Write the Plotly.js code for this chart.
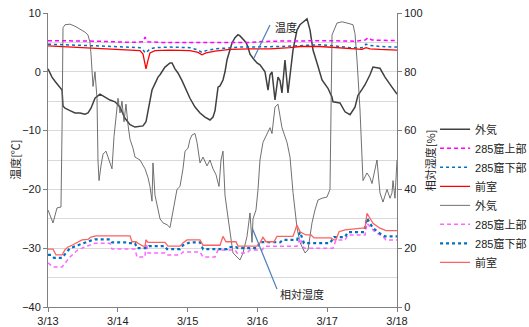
<!DOCTYPE html>
<html>
<head>
<meta charset="utf-8">
<script src="https://cdn.plot.ly/plotly-3.0.1.min.js"></script>
<style>html,body{margin:0;padding:0;background:#fff;}#chart{width:529px;height:327px;}</style>
</head>
<body>
<div id="chart"></div>
<script>
// x values: days since 3/13 00:00
const tickVals = [0, 1, 2, 3, 4, 5];
const tickLabels = ['3/13', '3/14', '3/15', '3/16', '3/17', '3/18'];
const seriesNames = ['外気', '285窟上部', '285窟下部', '前室'];

// Outside air temperature [°C]
const tOutTemp = [0,0.029,0.057,0.100,0.143,0.201,0.215,0.244,0.315,0.387,0.458,0.530,0.573,0.616,0.673,0.745,0.817,0.888,0.960,1.032,1.103,1.175,1.246,1.318,1.361,1.404,1.433,1.461,1.490,1.533,1.576,1.605,1.676,1.748,1.777,1.819,1.862,1.920,1.963,2.034,2.106,2.178,2.249,2.321,2.364,2.393,2.436,2.464,2.507,2.536,2.564,2.607,2.636,2.679,2.722,2.751,2.794,2.837,2.865,2.894,2.937,2.994,3.037,3.080,3.109,3.152,3.181,3.209,3.252,3.295,3.324,3.352,3.395,3.438,3.467,3.510,3.567,3.610,3.639,3.682,3.711,3.754,3.797,3.854,3.926,4.011,4.069,4.083,4.183,4.255,4.327,4.398,4.441,4.499,4.542,4.613,4.656,4.713,4.756,4.828,4.900,4.928,5.0];
const outTemp = [0.5,-0.2,-0.9,-1.6,-2.3,-3.1,-5.8,-6.2,-6.6,-7.0,-7.0,-7.2,-7.0,-6.2,-4.5,-3.8,-4.3,-4.8,-5.1,-6.0,-7.9,-9.0,-9.4,-9.3,-9.2,-8.5,-6.5,-4.5,-3.1,-2.0,-0.9,-0.5,0.8,1.5,1.5,0.5,-0.2,-1.5,-2.6,-4.5,-6.0,-7.0,-7.7,-8.2,-7.7,-6.6,-2.6,-2.4,-1.4,0.0,2.0,3.8,4.9,5.8,6.3,6.1,5.5,5.0,4.2,3.0,2.3,1.5,1.2,0.5,0.0,-3.1,-0.5,0.0,-4.8,-0.9,-1.5,-3.6,2.0,-3.6,-1.0,3.7,7.1,8.0,8.3,8.8,9.0,7.1,3.7,1.5,-1.4,-2.8,-4.3,-5.1,-5.3,-6.8,-7.3,-6.0,-4.0,-3.0,-2.2,-0.5,0.8,0.7,0.6,-0.9,-2.0,-2.6,-3.8];

// Upper 285 cave temperature
const tUpperTemp = [0,0.745,1.175,1.361,1.390,1.433,1.605,2.894,3.181,3.610,4.040,4.398,4.542,4.585,4.642,5.0];
const upperTemp = [5.3,5.2,5.0,5.1,5.9,5.1,5.0,5.0,5.2,5.3,5.3,5.2,5.4,5.8,5.4,5.3];

// Lower 285 cave temperature
const tLowerTemp = [0,0.172,0.458,0.745,1.175,1.318,1.361,1.390,1.418,1.461,1.533,1.748,2.034,2.149,2.206,2.264,2.393,2.751,3.324,3.610,3.897,4.112,4.327,4.499,4.556,4.613,4.756,5.0];
const lowerTemp = [4.7,4.6,4.5,4.4,4.2,4.1,3.8,3.2,3.4,3.9,4.1,4.2,4.1,3.7,3.3,3.6,3.9,4.2,4.3,4.5,4.6,4.4,4.1,4.1,4.7,4.5,4.3,4.2];

// Antechamber temperature
const tFrontTemp = [0,0.172,0.458,0.745,1.032,1.175,1.318,1.361,1.390,1.404,1.433,1.461,1.533,1.748,2.034,2.149,2.206,2.264,2.393,2.607,2.894,3.181,3.467,3.610,3.897,4.112,4.327,4.499,4.556,4.613,4.756,5.0];
const frontTemp = [4.4,4.3,4.1,4.0,3.8,3.7,3.6,3.0,1.5,0.5,2.0,3.2,3.6,3.7,3.6,3.3,2.9,3.2,3.5,3.8,3.9,3.9,4.1,4.3,4.3,4.1,3.9,3.8,4.1,3.9,3.8,3.7];

// Outside relative humidity [%]
const tOutRH = [0,0.029,0.072,0.129,0.186,0.201,0.215,0.244,0.315,0.387,0.458,0.530,0.573,0.602,0.616,0.630,0.645,0.673,0.702,0.716,0.731,0.759,0.788,0.831,0.860,0.888,0.917,0.946,0.974,1.003,1.032,1.060,1.089,1.117,1.146,1.175,1.218,1.246,1.318,1.390,1.433,1.461,1.490,1.504,1.533,1.562,1.605,1.648,1.705,1.748,1.791,1.848,1.891,1.934,1.963,2.006,2.034,2.063,2.106,2.135,2.178,2.221,2.278,2.321,2.364,2.407,2.450,2.479,2.507,2.536,2.564,2.607,2.650,2.708,2.751,2.794,2.851,2.894,2.923,2.937,2.980,3.009,3.037,3.080,3.138,3.181,3.209,3.252,3.295,3.352,3.424,3.467,3.510,3.567,3.610,3.682,3.725,3.782,3.825,3.868,3.926,3.997,4.040,4.054,4.069,4.140,4.212,4.298,4.370,4.398,4.427,4.470,4.499,4.513,4.570,4.613,4.642,4.685,4.713,4.756,4.799,4.857,4.900,4.928,4.943,4.971,5.0];
const outRH = [33,31,28.6,33.7,34,60,95,96,96.2,95.5,94.5,93.5,92.5,90,86,82,75,80,71,50,43,48,52,53,51,49,47,58,64,71,66,70,63,69,62,57,54,51,50,47,44,41,36,49,38,35,30,28.6,28,27,33,40,41,47,53,54,57,58.5,59,56,49,51,48,50,47,45,41,50,53,38,33,25,18.4,17,16,18.4,24,32,22,30,33,40,50,56,59,61,59,68,69,61,56,51,39,27,22,18.4,19.4,28.6,33,36.4,37,37.4,40,70,92.5,96.6,97,96.5,96,93,84,67,51,43,45.6,44,42,47,50,38.8,35.7,40,37,38.8,43,37,50];

// Upper 285 cave humidity
const tUpperRH = [0,0.029,0.072,0.201,0.244,0.315,0.430,0.530,0.602,0.673,0.888,0.917,1.246,1.275,1.390,1.404,1.433,1.676,1.705,1.891,1.934,2.178,2.221,2.393,2.436,2.679,2.708,2.851,2.894,3.066,3.109,3.567,3.610,3.668,4.083,4.126,4.255,4.298,4.542,4.570,4.685,4.799,4.842,5.0];
const upperRH = [15,14.3,13.6,13.6,15,17,19.5,20.5,21,21.7,21.7,19.7,19.7,17,17,22.8,18.4,18.4,17.7,17.7,18.7,18.7,17,17,19.4,19.4,18.4,18.4,19.4,19.4,20.7,20.7,23.5,20,20,22.8,22.8,24.5,24.5,28.5,25.5,24,22.8,22.8];

// Lower 285 cave humidity
const tLowerRH = [0,0.043,0.086,0.201,0.244,0.315,0.430,0.530,0.602,0.673,0.888,0.917,1.103,1.132,1.246,1.275,1.418,1.447,1.676,1.705,1.891,1.934,2.006,2.034,2.178,2.221,2.564,2.593,2.693,2.722,2.994,3.037,3.324,3.367,3.567,3.610,3.668,4.040,4.097,4.255,4.298,4.527,4.570,4.656,4.756,4.828,5.0];
const lowerRH = [17.7,17.7,16.7,16.7,18,20,21,22,22.5,23,23,22,22,21.7,21.7,20,20,20.7,20.7,19.7,19.7,21,21.7,22,22,19.7,19.7,20.4,20.4,20,20,22.1,22,22.8,22.8,25.5,21.7,21.7,23.8,23.8,25.5,25.5,30.2,26.8,25,24,24];

// Antechamber humidity
const tFrontRH = [0,0.072,0.115,0.201,0.244,0.287,0.344,0.401,0.487,0.573,0.616,0.688,1.175,1.203,1.261,1.289,1.361,1.390,1.404,1.433,1.676,1.719,1.891,1.934,1.991,2.178,2.221,2.464,2.507,2.550,2.693,2.722,2.994,3.037,3.080,3.123,3.238,3.281,3.510,3.567,3.610,3.696,3.768,3.811,4.054,4.097,4.126,4.169,4.255,4.499,4.542,4.570,4.656,4.756,4.842,5.0];
const frontRH = [19.7,19.7,17.7,17.7,19.5,20.4,21,21.8,22.8,23,23.8,24.2,24.2,22.2,22.2,21.7,20.7,20.7,22.8,22,22,20.7,20.7,21.8,22.8,22.8,21,21,24,22.2,22.2,20.7,20.7,21.8,23.7,22.2,22.2,24,24,27.9,25.6,24.5,24.5,23.5,23.5,22.8,22.8,25.6,26.2,26.8,26.8,31.9,28.5,26.8,26,26];

const FONT = 'Liberation Sans, Arial, Noto Sans CJK JP, sans-serif';
const JFONT = 'Noto Sans CJK JP, sans-serif';

const traces = [
  {x: tOutTemp, y: outTemp, name: seriesNames[0], yaxis: 'y', line: {color: '#404040', width: 1.5}},
  {x: tUpperTemp, y: upperTemp, name: seriesNames[1], yaxis: 'y', line: {color: '#ff00ff', width: 1.5, dash: '4px,3px'}},
  {x: tLowerTemp, y: lowerTemp, name: seriesNames[2], yaxis: 'y', line: {color: '#0070c0', width: 1.5, dash: 'dot'}},
  {x: tFrontTemp, y: frontTemp, name: seriesNames[3], yaxis: 'y', line: {color: '#ff0000', width: 1.3}},
  {x: tOutRH, y: outRH, name: seriesNames[0], yaxis: 'y2', line: {color: '#606060', width: 0.9}},
  {x: tUpperRH, y: upperRH, name: seriesNames[1], yaxis: 'y2', line: {color: '#ff66ff', width: 1.5, dash: '4px,3px'}},
  {x: tLowerRH, y: lowerRH, name: seriesNames[2], yaxis: 'y2', line: {color: '#0070c0', width: 2.2, dash: 'dot'}},
  {x: tFrontRH, y: frontRH, name: seriesNames[3], yaxis: 'y2', line: {color: '#ff6060', width: 1.3}}
].map(t => Object.assign({type: 'scatter', mode: 'lines'}, t));

const lineColor = '#4a7ebb';
const ann = (x, y, text, angle) => ({xref: 'paper', yref: 'paper', x: x, y: y, xanchor: 'center', yanchor: 'middle',
  text: text, textangle: angle || 0, showarrow: false, font: {size: 11, family: JFONT, color: '#222'}});
const layout = {
  width: 529, height: 327,
  margin: {l: 48, r: 132, t: 13, b: 20, autoexpand: false},
  paper_bgcolor: '#ffffff', plot_bgcolor: '#ffffff',
  font: {family: FONT, size: 11, color: '#222'},
  showlegend: true,
  legend: {x: 1.109, xanchor: 'left', y: 0.378, yanchor: 'middle', font: {size: 11, family: FONT, color: '#222'}, bgcolor: 'rgba(0,0,0,0)', traceorder: 'normal'},
  xaxis: {
    range: [0, 5], tickvals: tickVals, ticktext: tickLabels, automargin: false,
    showgrid: false, zeroline: false, showline: true, linecolor: '#808080', linewidth: 1,
    ticks: 'outside', ticklen: 4, tickcolor: '#808080', tickfont: {size: 11, family: FONT}
  },
  yaxis: {
    range: [-40, 10], dtick: 10, tick0: 0, automargin: false,
    showgrid: true, gridcolor: '#d9d9d9', gridwidth: 1,
    minor: {dtick: 5, showgrid: true, gridcolor: '#d9d9d9', gridwidth: 1},
    zeroline: false, showline: true, linecolor: '#808080', linewidth: 1,
    ticks: 'outside', ticklen: 4, tickcolor: '#808080', tickfont: {size: 11, family: FONT}
  },
  yaxis2: {
    range: [0, 100], dtick: 20, overlaying: 'y', side: 'right', automargin: false,
    showgrid: false, zeroline: false, showline: true, linecolor: '#808080', linewidth: 1,
    ticks: 'outside', ticklen: 4, tickcolor: '#808080', tickfont: {size: 11, family: FONT}
  },
  shapes: [
    {type: 'line', xref: 'paper', yref: 'paper', x0: 0.636, y0: 0.959, x1: 0.590, y1: 0.847, line: {color: lineColor, width: 1.2}},
    {type: 'line', xref: 'paper', yref: 'paper', x0: 0.585, y0: 0.269, x1: 0.656, y1: 0.061, line: {color: lineColor, width: 1.2}}
  ],
  annotations: [
    ann(0.682, 0.952, '温度'),
    ann(0.728, 0.044, '相対湿度'),
    ann(-0.095, 0.5, '温度[℃]', -90),
    ann(1.095, 0.5, '相対湿度[%]', -90)
  ]
};

Plotly.newPlot('chart', traces, layout, {displayModeBar: false, staticPlot: true});
</script>
</body>
</html>
